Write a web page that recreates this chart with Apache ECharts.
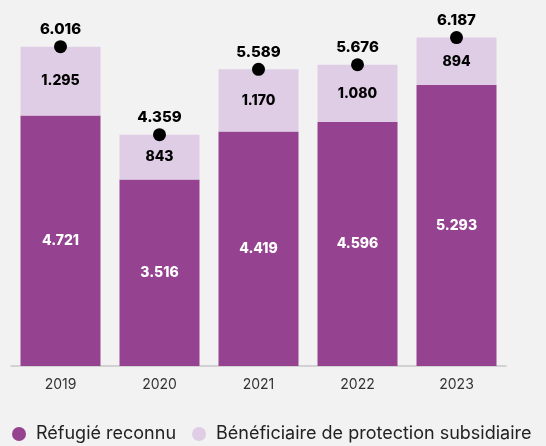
<!DOCTYPE html>
<html>
<head>
<meta charset="utf-8">
<script src="https://cdn.jsdelivr.net/npm/echarts@6/dist/echarts.min.js"></script>
<style>
  html, body { margin: 0; padding: 0; background: #f2f2f2; }
  #chart { width: 546px; height: 446px; }
</style>
</head>
<body>
<div id="chart"></div>
<script>
var years = ['2019', '2020', '2021', '2022', '2023'];
var refugies = [4721, 3516, 4419, 4596, 5293];
var subsidiaires = [1295, 843, 1170, 1080, 894];
var totals = [6016, 4359, 5589, 5676, 6187];

(function () {
  var chart = echarts.init(document.getElementById('chart'));
  function fmt(v) {
    return String(v).replace(/\B(?=(\d{3})+(?!\d))/g, '.');
  }
  var labelFont = 'Inter, "Noto Sans", sans-serif';
  var option = {
    backgroundColor: '#f2f2f2',
    animation: false,
    grid: { left: 11, right: 40, top: 21, bottom: 80 },
    legend: {
      data: ['Réfugié reconnu', 'Bénéficiaire de protection subsidiaire'],
      top: 425,
      left: 7,
      padding: [0, 5],
      icon: 'circle',
      itemWidth: 14,
      itemHeight: 14,
      itemGap: 16,
      textStyle: { color: '#222', fontSize: 18, fontFamily: labelFont, padding: [0, 0, 0, 5] }
    },
    xAxis: {
      type: 'category',
      data: years,
      axisLine: { lineStyle: { color: '#c8c8c8', width: 1.5 } },
      axisTick: { show: false },
      axisLabel: { color: '#333', fontSize: 14, margin: 12, fontFamily: labelFont }
    },
    yAxis: {
      type: 'value',
      min: 0,
      max: 6500,
      show: false,
      splitLine: { show: false }
    },
    series: [
      {
        name: 'Réfugié reconnu',
        type: 'bar',
        stack: 'total',
        barWidth: 80,
        itemStyle: { color: '#954290' },
        label: {
          show: true,
          position: 'inside',
          color: '#fff',
          fontWeight: 800,
          fontSize: 14,
          fontFamily: labelFont,
          formatter: function (p) { return fmt(p.value); }
        },
        data: refugies
      },
      {
        name: 'Bénéficiaire de protection subsidiaire',
        type: 'bar',
        stack: 'total',
        barWidth: 80,
        itemStyle: { color: '#dfcde6' },
        label: {
          show: true,
          position: 'inside',
          color: '#000',
          fontWeight: 800,
          fontSize: 14,
          fontFamily: labelFont,
          formatter: function (p) { return fmt(p.value); }
        },
        data: subsidiaires
      },
      {
        name: 'Total',
        type: 'scatter',
        symbol: 'circle',
        symbolSize: 13,
        itemStyle: { color: '#000', opacity: 1 },
        label: {
          show: true,
          position: 'top',
          distance: 3,
          color: '#000',
          fontWeight: 800,
          fontSize: 15,
          fontFamily: labelFont,
          formatter: function (p) { return fmt(p.value); }
        },
        z: 5,
        data: totals
      }
    ]
  };
  chart.setOption(option);
})();
</script>
</body>
</html>
